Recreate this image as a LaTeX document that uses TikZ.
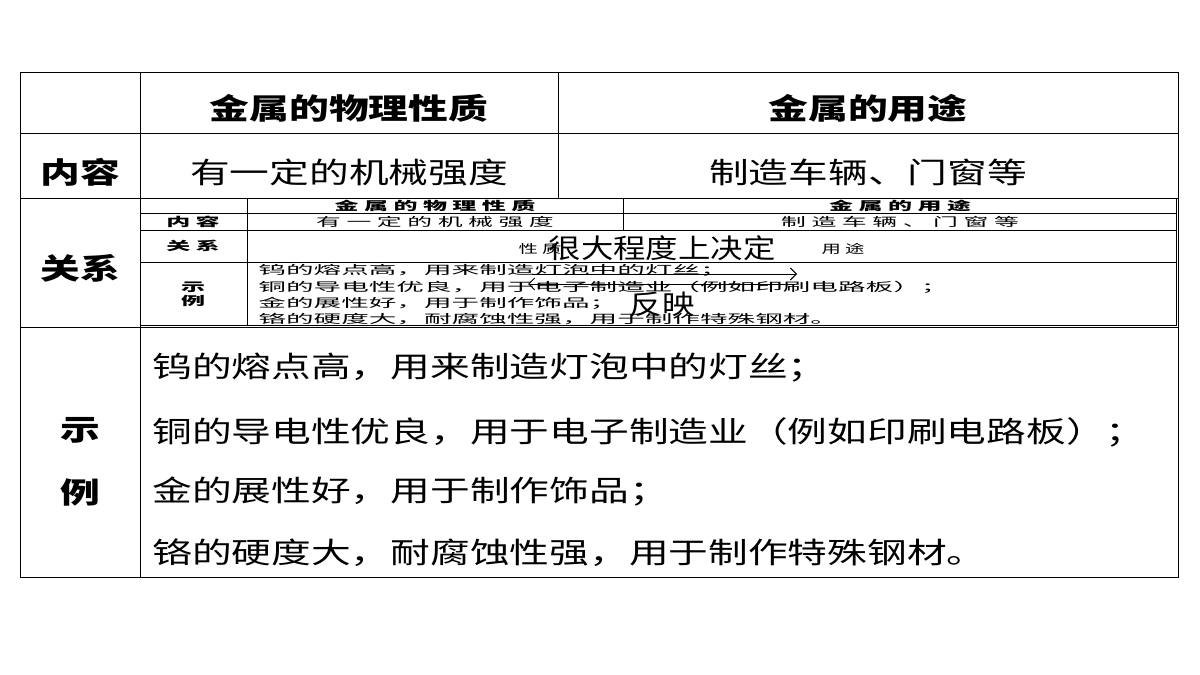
\documentclass[tikz,border=0pt]{standalone}
\usepackage{fontspec}
\setmainfont{Noto Sans CJK SC}
\usetikzlibrary{arrows.meta}
\begin{document}
\begin{tikzpicture}[x=1pt,y=-1pt,
  big/.style={font=\fontsize{29}{34}\selectfont,inner sep=0,xscale=1.37},
  hdr/.style={font=\fontsize{29}{34}\selectfont\bfseries,inner sep=0,xscale=1.37},
  mini/.style={font=\fontsize{12}{13}\selectfont,inner sep=0,xscale=2.3},
  minib/.style={font=\fontsize{12}{13}\selectfont\bfseries,inner sep=0,xscale=2.0},
  over/.style={font=\fontsize{27}{30}\selectfont,inner sep=0,xscale=1.2},
  ln/.style={line width=0.8pt},
  mln/.style={line width=0.6pt}]
\useasboundingbox (0,0) rectangle (1200,675);
% outer table
\draw[ln] (20,72) rectangle (1178,577);
\draw[ln] (20,133) -- (1178,133);
\draw[ln] (20,198) -- (1178,198);
\draw[ln] (20,327) -- (1178,327);
\draw[ln] (140,72) -- (140,577);
\draw[ln] (558,72) -- (558,198);
\node[hdr] (h1) at (349,108) {金属的物理性质};
\node[hdr] (h2) at (868,108) {金属的用途};
\node[hdr] (r1) at (80,172) {内容};
\node[big] (c1) at (349,172) {有一定的机械强度};
\node[big] (c2) at (868,172) {制造车辆、门窗等};
\node[hdr] (r2) at (80,268) {关系};
\node[hdr] (r3) at (80,430) {示};
\node[hdr] (r4) at (80,492) {例};
\node[big,anchor=west] (e1) at (152,368) {钨的熔点高，用来制造灯泡中的灯丝；};
\node[big,anchor=west] (e2) at (152,432) {铜的导电性优良，用于电子制造业（例如印刷电路板）；};
\node[big,anchor=west] (e3) at (152,492) {金的展性好，用于制作饰品；};
\node[big,anchor=west] (e4) at (152,553) {铬的硬度大，耐腐蚀性强，用于制作特殊钢材。};
% mini table image
\draw[mln] (140,198) rectangle (1176,325);
\draw[mln] (140,213) -- (1176,213);
\draw[mln] (140,230) -- (1176,230);
\draw[mln] (140,262) -- (1176,262);
\draw[mln] (247,198) -- (247,325);
\draw[mln] (623,198) -- (623,230);
\node[minib] (m1) at (435,206) {金 属 的 物 理 性 质};
\node[minib] (m2) at (900,206) {金 属 的 用 途};
\node[minib] (m3) at (193,222) {内 容};
\node[mini,xscale=0.9] (m4) at (435,222) {有 一 定 的 机 械 强 度};
\node[mini,xscale=0.9] (m5) at (900,222) {制 造 车 辆 、 门 窗 等};
\node[minib] (m6) at (193,246) {关 系};
\node[mini,xscale=0.7] (m7) at (540,249) {性 质};
\node[mini,xscale=0.7] (m8) at (843,249) {用 途};
\node[minib] (m9) at (193,287) {示};
\node[minib] (m10) at (193,301) {例};
\node[mini,anchor=west] (m11) at (258,270) {钨的熔点高，用来制造灯泡中的灯丝；};
\node[mini,anchor=west] (m12) at (258,287) {铜的导电性优良，用于电子制造业（例如印刷电路板）；};
\node[mini,anchor=west] (m13) at (258,303) {金的展性好，用于制作饰品；};
\node[mini,anchor=west] (m14) at (258,319) {铬的硬度大，耐腐蚀性强，用于制作特殊钢材。};
% overlay
\node[over] (t1) at (662,248) {很大程度上决定};
\node[over] (t2) at (662,304) {反映};
\coordinate (aL1) at (532,274); \coordinate (aR1) at (797,274);
\coordinate (aL2) at (528,284); \coordinate (aR2) at (795,284);
\draw[line width=1pt,-{Straight Barb[length=6pt]}] (aL1) -- (aR1);
\draw[line width=1pt,-{Straight Barb[length=6pt]}] (aR2) -- (aL2);
\end{tikzpicture}
\end{document}
